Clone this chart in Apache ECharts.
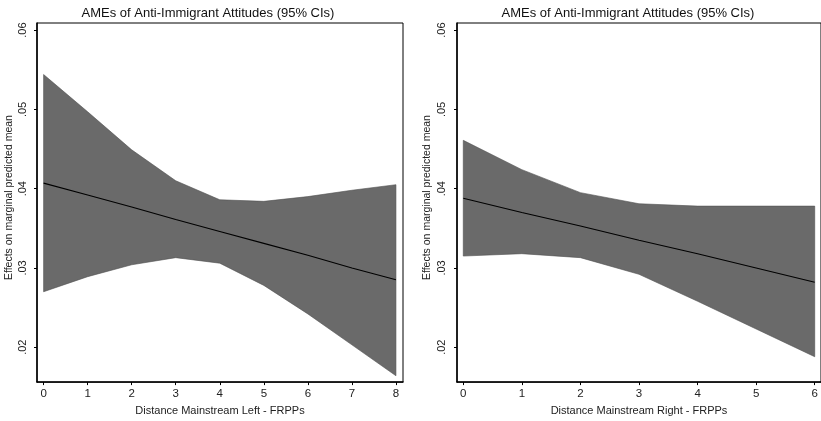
<!DOCTYPE html>
<html>
<head>
<meta charset="utf-8">
<script src="https://cdn.jsdelivr.net/npm/echarts@6/dist/echarts.min.js"></script>
<style>html,body{margin:0;padding:0;background:#fff}#c{width:821px;height:421px}</style>
</head>
<body>
<div id="c"></div>
<script>
// Left panel: Distance Mainstream Left - FRPPs
var leftX = [0, 1, 2, 3, 4, 5, 6, 7, 8];
var leftMean = [0.0407, 0.0392, 0.0377, 0.0361, 0.0346, 0.0331, 0.0316, 0.0300, 0.0285];
var leftLower = [0.0270, 0.0289, 0.0304, 0.0313, 0.0306, 0.0278, 0.0242, 0.0203, 0.0164];
var leftUpper = [0.0544, 0.0497, 0.0449, 0.0410, 0.0386, 0.0384, 0.0390, 0.0398, 0.0405];
// Right panel: Distance Mainstream Right - FRPPs
var rightX = [0, 1, 2, 3, 4, 5, 6];
var rightMean = [0.0388, 0.0370, 0.0353, 0.0335, 0.0318, 0.0300, 0.0282];
var rightLower = [0.0315, 0.0318, 0.0313, 0.0292, 0.0258, 0.0223, 0.0188];
var rightUpper = [0.0461, 0.0424, 0.0395, 0.0381, 0.0378, 0.0378, 0.0378];
var yTicks = [0.02, 0.03, 0.04, 0.05, 0.06];
var leftXTicks = [0, 1, 2, 3, 4, 5, 6, 7, 8];
var rightXTicks = [0, 1, 2, 3, 4, 5, 6];
var titleText = 'AMEs of Anti-Immigrant Attitudes (95% CIs)';
var yName = 'Effects on marginal predicted mean';
var leftXName = 'Distance Mainstream Left - FRPPs';
var rightXName = 'Distance Mainstream Right - FRPPs';

var FONT = '"Liberation Sans", Arial, sans-serif';

function bandSeries(xs, lo, hi, idx) {
  var data = xs.map(function (x, i) { return [x, lo[i], hi[i]]; });
  return {
    type: 'custom',
    xAxisIndex: idx, yAxisIndex: idx,
    silent: true,
    z: 1,
    data: data,
    encode: { x: 0, y: [1, 2] },
    renderItem: function (params, api) {
      if (params.dataIndex !== 0) return null;
      var pts = [];
      for (var i = 0; i < xs.length; i++) pts.push(api.coord([xs[i], hi[i]]));
      for (var j = xs.length - 1; j >= 0; j--) pts.push(api.coord([xs[j], lo[j]]));
      return {
        type: 'polygon',
        shape: { points: pts },
        style: { fill: '#6a6a6a', stroke: '#505050', lineWidth: 0.6 }
      };
    }
  };
}

function lineSeries(xs, ys, idx) {
  return {
    type: 'line',
    xAxisIndex: idx, yAxisIndex: idx,
    data: xs.map(function (x, i) { return [x, ys[i]]; }),
    symbol: 'none',
    silent: true,
    z: 3,
    lineStyle: { color: '#000', width: 1.1 }
  };
}

function yAxis(idx, margin, gap) {
  return {
    type: 'value', gridIndex: idx,
    min: 0.0156, max: 0.0609,
    name: yName, nameLocation: 'middle', nameGap: gap, nameRotate: 90,
    nameTextStyle: { fontFamily: FONT, fontSize: 10.5, color: '#222', padding: [0, 0, 0, 10] },
    axisLine: { show: true, onZero: false, lineStyle: { color: '#000', width: 1.5 } },
    axisTick: { show: true, length: 3, customValues: yTicks, lineStyle: { color: '#000', width: 1 } },
    axisLabel: {
      show: true, rotate: 90, margin: margin, customValues: yTicks,
      fontFamily: FONT, fontSize: 11, color: '#222',
      formatter: function (v) { return v.toFixed(2).replace(/^0/, ''); }
    },
    splitLine: { show: false }
  };
}

function xAxis(idx, min, max, ticks, name) {
  return {
    type: 'value', gridIndex: idx,
    min: min, max: max,
    name: name, nameLocation: 'middle', nameGap: 18,
    nameTextStyle: { fontFamily: FONT, fontSize: 11, color: '#222' },
    axisLine: { show: true, onZero: false, lineStyle: { color: '#000', width: 1.5 } },
    axisTick: { show: true, length: 3, customValues: ticks, lineStyle: { color: '#000', width: 1 } },
    axisLabel: { show: true, margin: 6, customValues: ticks, fontFamily: FONT, fontSize: 11.5, color: '#222' },
    splitLine: { show: false }
  };
}

var chart = echarts.init(document.getElementById('c'), null, { renderer: 'canvas' });
chart.setOption({
  backgroundColor: '#fff',
  animation: false,
  title: [
    { text: titleText, left: 203, top: 2, textAlign: 'center',
      textStyle: { fontFamily: FONT, fontSize: 13, fontWeight: 'normal', color: '#111' } },
    { text: titleText, left: 623, top: 2, textAlign: 'center',
      textStyle: { fontFamily: FONT, fontSize: 13, fontWeight: 'normal', color: '#111' } }
  ],
  grid: [
    { left: 37, top: 23, width: 366, height: 365, show: true, borderColor: '#000', borderWidth: 1, backgroundColor: '#fff', containLabel: false },
    { left: 457, top: 23, width: 365, height: 365, show: true, borderColor: '#000', borderWidth: 1, backgroundColor: '#fff', containLabel: false }
  ],
  xAxis: [
    xAxis(0, -0.15, 8.16, leftXTicks, leftXName),
    xAxis(1, -0.107, 6.107, rightXTicks, rightXName)
  ],
  yAxis: [yAxis(0, 9, 22), yAxis(1, 10, 24)],
  series: [
    bandSeries(leftX, leftLower, leftUpper, 0),
    lineSeries(leftX, leftMean, 0),
    bandSeries(rightX, rightLower, rightUpper, 1),
    lineSeries(rightX, rightMean, 1)
  ]
});
</script>
</body>
</html>
